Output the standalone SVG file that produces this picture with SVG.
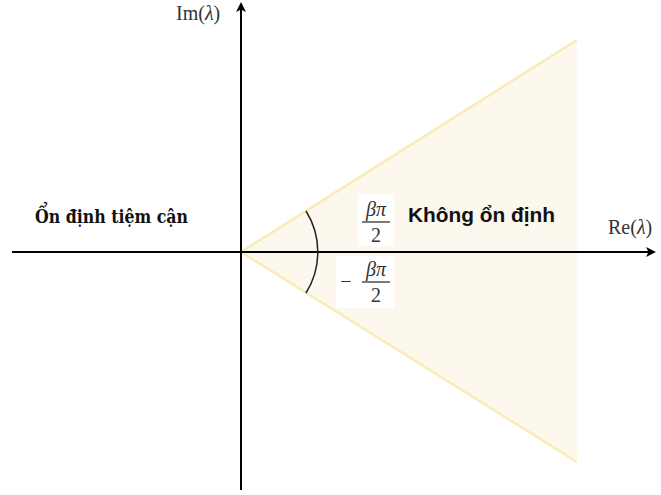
<svg xmlns="http://www.w3.org/2000/svg" width="661" height="495" viewBox="0 0 661 495">
<style>
.ax{stroke:#000;stroke-width:2;fill:none}
.math{font-family:"Liberation Serif",serif;font-size:20px;fill:#333}
.mi{font-family:"Liberation Serif",serif;font-style:italic;font-size:20px;fill:#333}
.serifb{font-family:"DejaVu Serif","Liberation Serif",serif;font-weight:bold;font-size:18px;fill:#111}
.sansb{font-family:"Liberation Sans",sans-serif;font-weight:bold;font-size:20px;fill:#111}
</style>
<defs>
<marker id="ar" markerWidth="10" markerHeight="10" refX="8" refY="5" orient="auto" markerUnits="userSpaceOnUse">
<path d="M0,0 L10,5 L0,10 L2.5,5 Z" fill="#000"/>
</marker>
</defs>
<rect width="661" height="495" fill="#fff"/>
<g id="region">
<polygon points="241,252 577,40 577,462" fill="#fcf8ee" stroke="none"/>
<line x1="241" y1="252" x2="577" y2="40" stroke="#faebb4" stroke-width="2.5"/>
<line x1="241" y1="252" x2="577" y2="462" stroke="#faebb4" stroke-width="2.5"/>
</g>
<g id="connectors">
<line class="ax" x1="12" y1="252" x2="654" y2="252" marker-end="url(#ar)"/>
<line class="ax" x1="241" y1="490" x2="241" y2="4" marker-end="url(#ar)"/>
<path d="M306,211 A77,77 0 0 1 306,293" fill="none" stroke="#222" stroke-width="1.5"/>
</g>
<g id="label-stable">
<text class="serifb" x="35" y="223" textLength="153" lengthAdjust="spacingAndGlyphs">Ổn định tiệm cận</text>
</g>
<g id="label-unstable">
<text class="sansb" x="408" y="222" textLength="147" lengthAdjust="spacingAndGlyphs">Không ổn định</text>
</g>
<g id="label-re">
<text class="math" x="608" y="234">Re(<tspan class="mi">λ</tspan>)</text>
</g>
<g id="label-im">
<text class="math" x="176" y="20">Im(<tspan class="mi">λ</tspan>)</text>
</g>
<g id="frac-pos">
<rect x="358" y="194" width="36" height="52" fill="#fff"/>
<text class="mi" x="376" y="216" text-anchor="middle">βπ</text>
<line x1="362" y1="222" x2="390" y2="222" stroke="#333" stroke-width="1.3"/>
<text class="math" x="376" y="242" text-anchor="middle">2</text>
</g>
<g id="frac-neg">
<rect x="336" y="256" width="58" height="52" fill="#fff"/>
<text class="math" x="346" y="288" text-anchor="middle">−</text>
<text class="mi" x="376" y="276" text-anchor="middle">βπ</text>
<line x1="362" y1="282" x2="390" y2="282" stroke="#333" stroke-width="1.3"/>
<text class="math" x="376" y="302" text-anchor="middle">2</text>
</g>
</svg>
